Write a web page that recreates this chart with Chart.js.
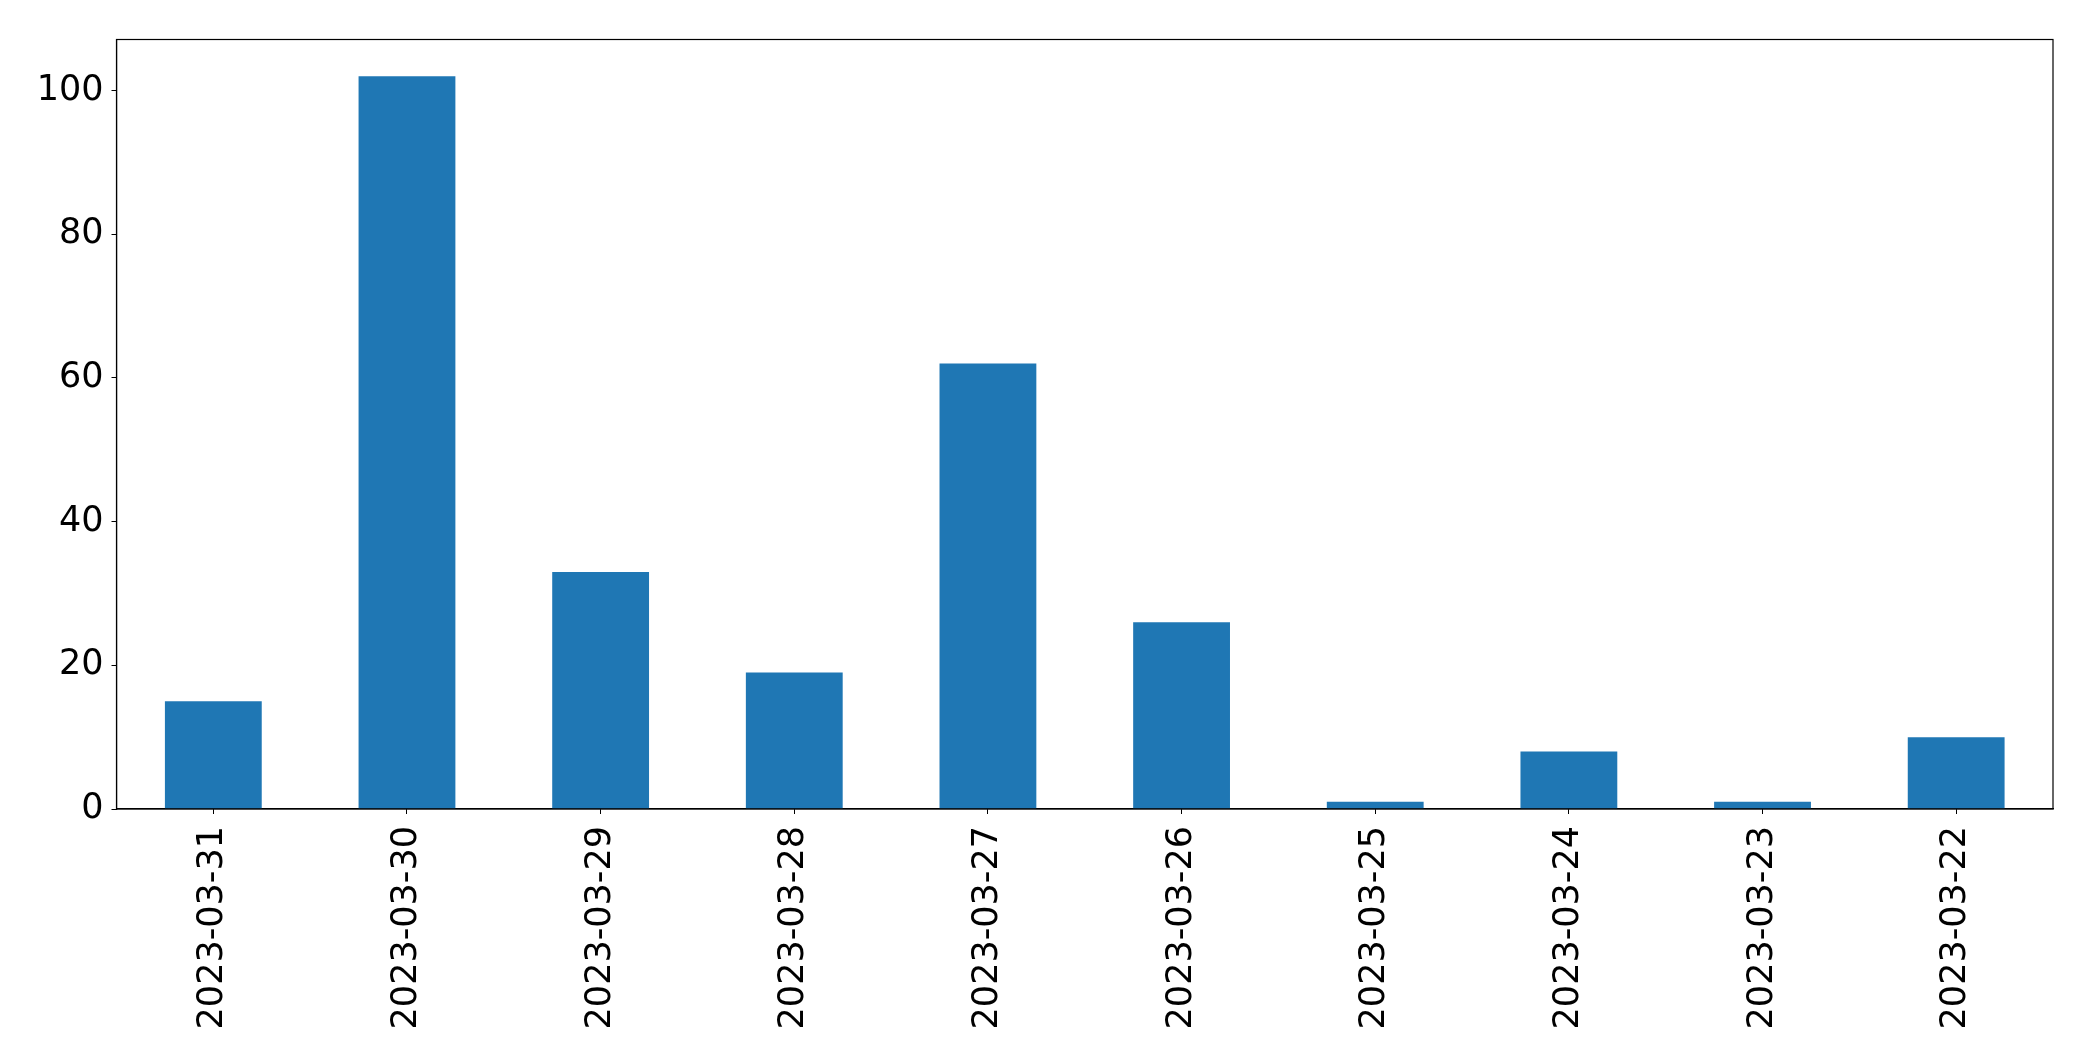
<!DOCTYPE html>
<html>
<head>
<meta charset="utf-8">
<script src="https://cdn.jsdelivr.net/npm/chart.js@4"></script>
<style>
  html, body { margin: 0; padding: 0; background: #fff; }
  #wrap { width: 2093px; height: 1061px; position: relative; }
</style>
</head>
<body>
<div id="wrap"><canvas id="barChart"></canvas></div>
<script>
const dates = ['2023-03-31', '2023-03-30', '2023-03-29', '2023-03-28', '2023-03-27',
               '2023-03-26', '2023-03-25', '2023-03-24', '2023-03-23', '2023-03-22'];
const counts = [15, 102, 33, 19, 62, 26, 1, 8, 1, 10];
const yTicks = [0, 20, 40, 60, 80, 100];

// box around the plot area, like matplotlib's spines
const frame = {
    id: 'frame',
    afterDraw(chart) {
        const { ctx, chartArea: a } = chart;
        ctx.save();
        ctx.strokeStyle = '#000';
        ctx.lineWidth = 1.2;
        ctx.strokeRect(a.left, a.top, a.right - a.left, a.bottom - a.top);
        ctx.restore();
    }
};

const tickFont = { family: 'DejaVu Sans', size: 35 };

new Chart(document.getElementById('barChart').getContext('2d'), {
    type: 'bar',
    data: {
        labels: dates,
        datasets: [{
            data: counts,
            backgroundColor: '#1f77b4',
            borderWidth: 0,
            categoryPercentage: 0.5,
            barPercentage: 1.0
        }]
    },
    options: {
        responsive: true,
        maintainAspectRatio: false,
        animation: false,
        layout: { padding: { top: 39.5, right: 40, left: 0, bottom: 0 } },
        plugins: {
            legend: { display: false },
            tooltip: { enabled: false }
        },
        scales: {
            x: {
                offset: true,
                grid: { display: true, drawOnChartArea: false, drawTicks: true, tickLength: 5, tickColor: '#000', offset: false },
                border: { display: true, color: '#000', width: 1.2 },
                ticks: { color: '#000', font: tickFont, maxRotation: 90, minRotation: 90, padding: 12, autoSkip: false },
                afterFit: s => { s.height = 252; }
            },
            y: {
                min: 0,
                max: 107.1,
                grid: { display: true, drawOnChartArea: false, drawTicks: true, tickLength: 5, tickColor: '#000' },
                border: { display: true, color: '#000', width: 1.2 },
                ticks: { color: '#000', font: tickFont, stepSize: 20, includeBounds: false, padding: 8 },
                afterBuildTicks: s => { s.ticks = yTicks.map(v => ({ value: v })); },
                afterFit: s => { s.width = 116.5; }
            }
        }
    },
    plugins: [frame]
});
</script>
</body>
</html>
